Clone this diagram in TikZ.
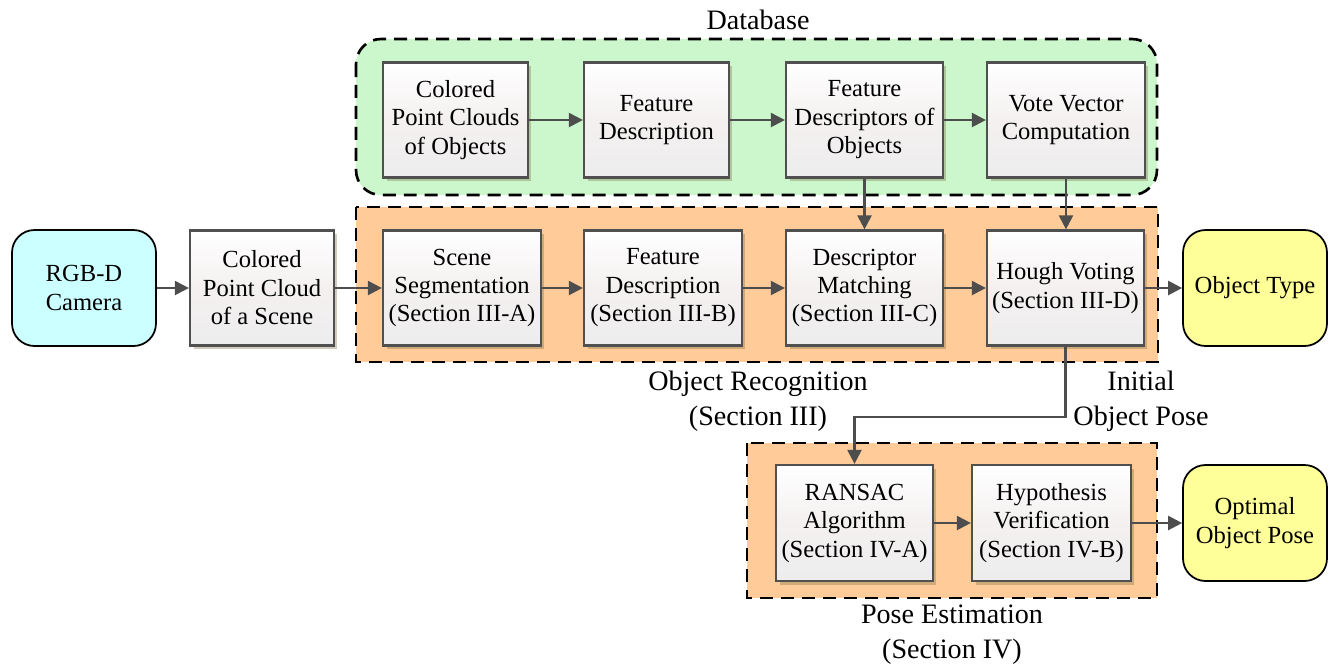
\documentclass[tikz,border=0pt]{standalone}
\usepackage{fontspec}
\setmainfont{Liberation Serif}
\usetikzlibrary{arrows.meta,shadows}

\definecolor{boxline}{HTML}{505050}
\definecolor{arrowc}{HTML}{4D4D4D}
\definecolor{boxbot}{HTML}{EDEDED}
\definecolor{boxmid}{HTML}{F4F0F0}
\definecolor{shadowc}{HTML}{7A6A40}
\definecolor{dbgreen}{HTML}{CCF7CC}
\definecolor{recorange}{HTML}{FFCC99}
\definecolor{camcyan}{HTML}{CCFFFF}
\definecolor{outyellow}{HTML}{FFFF99}

\newcommand{\procfont}{\rmfamily\fontsize{14}{16.2}\selectfont}
\newcommand{\capfont}{\rmfamily\fontsize{16}{19.9}\selectfont}

\tikzset{
  proc/.style={draw=boxline, line width=1.3pt,
    top color=white, bottom color=boxbot, middle color=boxmid,
    drop shadow={shadow xshift=0.07cm, shadow yshift=-0.07cm, opacity=0.35, fill=shadowc},
    align=center, inner sep=0pt, minimum height=2.3cm, font=\procfont},
  term/.style={draw=black, line width=1pt, rounded corners=0.45cm, align=center,
    inner sep=0pt, minimum width=2.88cm, minimum height=2.32cm, font=\procfont},
  flow/.style={draw=arrowc, line width=1.3pt, -{Triangle[length=0.28cm,width=0.28cm]}},
  group/.style={draw=black, line width=1.5pt, dash pattern=on 0.26cm off 0.16cm},
  caption/.style={font=\capfont, align=center, anchor=base, inner sep=0pt},
}

\begin{document}
\begin{tikzpicture}[x=0.02cm, y=-0.02cm]
\useasboundingbox (0,0) rectangle (1335,664);

% group containers
\draw[group, fill=dbgreen, rounded corners=0.5cm] (356,39) rectangle (1157,195);
\draw[group, fill=recorange] (356,207) rectangle (1158,362);
\draw[group, fill=recorange] (747,443) rectangle (1157,598);

% group captions (anchored on the baseline of the last line)
\node[caption] (dbcap) at (758,29) {Database};
\node[caption] (reccap) at (758,425) {Object Recognition\\(Section III)};
\node[caption] (initcap) at (1141,425) {Initial\\Object Pose};
\node[caption] (posecap) at (952,658) {Pose Estimation\\(Section IV)};

% database row
\node[proc, minimum width=2.9cm]  (db1) at (455.5,120) {Colored\\Point Clouds\\of Objects};
\node[proc, minimum width=2.9cm]  (db2) at (656.5,120) {Feature\\Description};
\node[proc, minimum width=3.14cm] (db3) at (864.5,120) {Feature\\Descriptors of\\Objects};
\node[proc, minimum width=3.16cm] (db4) at (1066,120) {Vote Vector\\Computation};

% recognition row
\node[term, fill=camcyan] (cam) at (84,288) {RGB-D\\Camera};
\node[proc, minimum width=2.88cm] (cloud) at (262,288) {Colored\\Point Cloud\\of a Scene};
\node[proc, minimum width=3.16cm] (seg) at (462,288) {Scene\\Segmentation\\(Section III-A)};
\node[proc, minimum width=3.16cm] (feat) at (663,288) {Feature\\Description\\(Section III-B)};
\node[proc, minimum width=3.14cm] (match) at (864.5,288) {Descriptor\\Matching\\(Section III-C)};
\node[proc, minimum width=3.14cm] (hough) at (1065.5,288) {Hough Voting\\(Section III-D)};
\node[term, fill=outyellow] (otype) at (1255,288) {Object Type};

% pose estimation row
\node[proc, minimum width=3.14cm, minimum height=2.32cm] (ransac) at (854.5,523) {RANSAC\\Algorithm\\(Section IV-A)};
\node[proc, minimum width=3.18cm, minimum height=2.32cm] (verify) at (1051.5,523) {Hypothesis\\Verification\\(Section IV-B)};
\node[term, fill=outyellow] (opose) at (1255,523) {Optimal\\Object Pose};

\coordinate (bendy) at (0,417);

% connectors
\draw[flow] (db1) -- (db2);
\draw[flow] (db2) -- (db3);
\draw[flow] (db3) -- (db4);
\draw[flow] (cam) -- (cloud);
\draw[flow] (cloud) -- (seg);
\draw[flow] (seg) -- (feat);
\draw[flow] (feat) -- (match);
\draw[flow] (match) -- (hough);
\draw[flow] (hough) -- (otype);
\draw[flow] (db3.south) -- (db3.south |- match.north);
\draw[flow] (db4.south) -- (db4.south |- hough.north);
\draw[flow] (hough.south) -- (hough.south |- bendy) -| (ransac.north);
\draw[flow] (ransac) -- (verify);
\draw[flow] (verify) -- (opose);
\end{tikzpicture}
\end{document}
